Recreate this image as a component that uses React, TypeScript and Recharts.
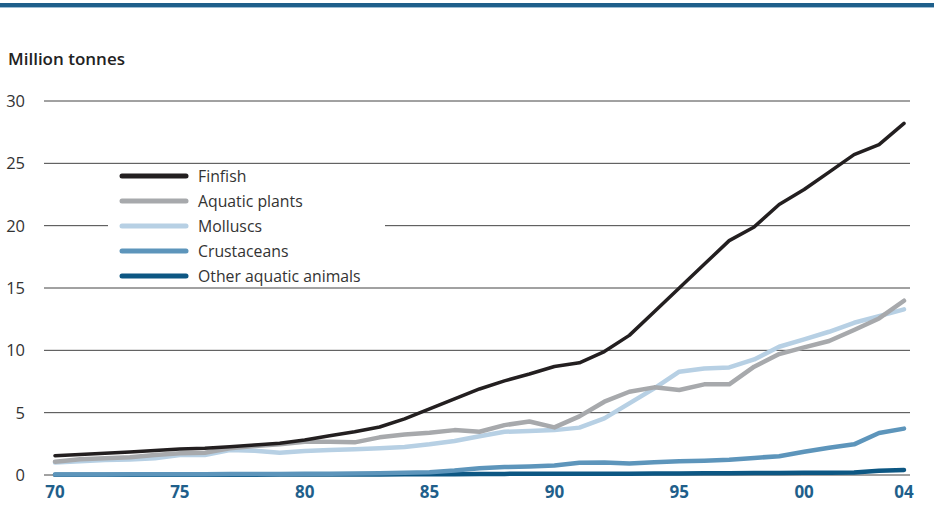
import React from "react";
import {
  CartesianGrid,
  Legend,
  Line,
  LineChart,
  XAxis,
  YAxis,
} from "recharts";

const years = [
  1970, 1971, 1972, 1973, 1974, 1975, 1976, 1977, 1978, 1979, 1980, 1981,
  1982, 1983, 1984, 1985, 1986, 1987, 1988, 1989, 1990, 1991, 1992, 1993,
  1994, 1995, 1996, 1997, 1998, 1999, 2000, 2001, 2002, 2003, 2004,
];

const finfish = [
  1.55, 1.65, 1.74, 1.85, 1.97, 2.08, 2.15, 2.27, 2.4, 2.55, 2.8, 3.15, 3.47,
  3.85, 4.5, 5.3, 6.1, 6.9, 7.55, 8.1, 8.7, 9.0, 9.9, 11.2, 13.1, 15.0, 16.9,
  18.8, 19.9, 21.7, 22.9, 24.3, 25.7, 26.5, 28.2,
];

const aquaticPlants = [
  1.07, 1.26, 1.34, 1.42, 1.6, 1.74, 1.78, 2.14, 2.33, 2.46, 2.67, 2.67, 2.62,
  3.02, 3.25, 3.39, 3.6, 3.47, 4.0, 4.29, 3.82, 4.7, 5.88, 6.68, 7.03, 6.82,
  7.27, 7.27, 8.69, 9.7, 10.24, 10.75, 11.63, 12.56, 13.98,
];

const molluscs = [
  1.0, 1.1, 1.2, 1.25, 1.35, 1.6, 1.6, 2.0, 1.95, 1.79, 1.92, 2.0, 2.06, 2.14,
  2.24, 2.46, 2.73, 3.11, 3.47, 3.52, 3.6, 3.8, 4.54, 5.75, 6.95, 8.29, 8.55,
  8.63, 9.27, 10.29, 10.88, 11.49, 12.21, 12.75, 13.29,
];

const crustaceans = [
  0.05, 0.05, 0.05, 0.06, 0.06, 0.07, 0.07, 0.08, 0.08, 0.09, 0.1, 0.1, 0.12,
  0.14, 0.18, 0.23, 0.36, 0.55, 0.64, 0.69, 0.77, 0.98, 1.0, 0.93, 1.02, 1.1,
  1.15, 1.23, 1.37, 1.51, 1.86, 2.19, 2.46, 3.37, 3.72,
];

const otherAnimals = [
  0.02, 0.02, 0.02, 0.02, 0.02, 0.03, 0.03, 0.03, 0.03, 0.04, 0.04, 0.04, 0.05,
  0.05, 0.06, 0.07, 0.07, 0.08, 0.09, 0.1, 0.1, 0.1, 0.11, 0.11, 0.12, 0.13,
  0.14, 0.15, 0.16, 0.17, 0.18, 0.19, 0.2, 0.35, 0.4,
];

const yTicks = [0, 5, 10, 15, 20, 25, 30];
const xTicks = [1970, 1975, 1980, 1985, 1990, 1995, 2000, 2004];

const series = [
  { key: "finfish", name: "Finfish", color: "#231f20", width: 3.5 },
  { key: "plants", name: "Aquatic plants", color: "#a7a9ac", width: 4.5 },
  { key: "molluscs", name: "Molluscs", color: "#b7d0e4", width: 4.5 },
  { key: "crustaceans", name: "Crustaceans", color: "#5d95bb", width: 4.5 },
  { key: "other", name: "Other aquatic animals", color: "#0d5783", width: 4.5 },
];

const data = years.map((year, i) => ({
  year,
  finfish: finfish[i],
  plants: aquaticPlants[i],
  molluscs: molluscs[i],
  crustaceans: crustaceans[i],
  other: otherAnimals[i],
}));

const FONT = "'Open Sans', 'DejaVu Sans', sans-serif";

function LegendBox() {
  return (
    <div
      style={{
        background: "#fff",
        width: 277,
        height: 121,
        boxSizing: "border-box",
      }}
    >
      {series.map((s) => (
        <div
          key={s.key}
          style={{ display: "flex", alignItems: "center", height: 24.8 }}
        >
          <svg width={90} height={10}>
            <line
              x1={14}
              x2={78}
              y1={5}
              y2={5}
              stroke={s.color}
              strokeWidth={5}
              strokeLinecap="round"
            />
          </svg>
          <span style={{ fontFamily: FONT, fontSize: 15.8, color: "#333" }}>
            {s.name}
          </span>
        </div>
      ))}
    </div>
  );
}

export default function App() {
  // chart pinned to the window corner, past the default body margin
  return (
    <div
      style={{
        position: "absolute",
        left: 0,
        top: 0,
        width: 934,
        height: 512,
        background: "#fff",
      }}
    >
      <div
        style={{
          position: "absolute",
          left: 0,
          top: 3,
          width: 934,
          height: 4,
          background: "#1e5f8b",
          borderBottom: "1px solid #9dbdd3",
        }}
      />
      <div
        style={{
          position: "absolute",
          left: 8,
          top: 47,
          fontFamily: FONT,
          fontWeight: 600,
          fontSize: 17,
          color: "#222",
        }}
      >
        Million tonnes
      </div>
      <LineChart
        width={934}
        height={512}
        data={data}
        margin={{ top: 101, right: 24, bottom: 0, left: 0 }}
      >
        <CartesianGrid vertical={false} stroke="#444" strokeWidth={1} />
        <XAxis
          dataKey="year"
          type="number"
          domain={[1970, 2004]}
          ticks={xTicks}
          tickFormatter={(v: number) => String(v).slice(2)}
          padding={{ left: 11, right: 6 }}
          height={37}
          axisLine={false}
          tickLine={false}
          tickSize={0}
          tickMargin={11}
          tick={{
            fontFamily: FONT,
            fontSize: 17,
            fontWeight: 700,
            fill: "#1f5f8b",
          }}
        />
        <YAxis
          domain={[0, 30]}
          ticks={yTicks}
          width={44}
          axisLine={false}
          tickLine={false}
          tickSize={0}
          tickMargin={19}
          tick={{ fontFamily: FONT, fontSize: 16.5, fill: "#333" }}
        />
        <Legend
          layout="vertical"
          align="center"
          verticalAlign="middle"
          wrapperStyle={{ left: 108, top: 164, width: 277, height: 121 }}
          content={() => <LegendBox />}
        />
        {[...series].reverse().map((s) => (
          <Line
            key={s.key}
            type="linear"
            dataKey={s.key}
            name={s.name}
            stroke={s.color}
            strokeWidth={s.width}
            strokeLinejoin="round"
            strokeLinecap="round"
            dot={false}
            activeDot={false}
            isAnimationActive={false}
          />
        ))}
      </LineChart>
    </div>
  );
}
